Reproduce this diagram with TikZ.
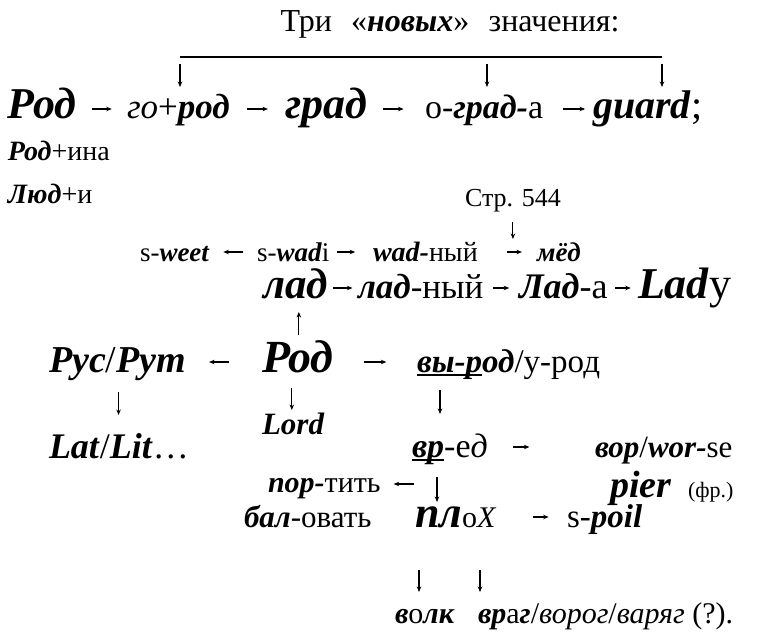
\documentclass[tikz,border=0pt]{standalone}
\usepackage{fontspec}
\setmainfont{Liberation Serif}
\usetikzlibrary{calc,arrows.meta}
\newcommand\bi[1]{\textbf{\textit{#1}}}
\newcommand\fs[1]{\fontsize{#1}{#1}\selectfont}
\newcommand\thul[1]{\leavevmode\setbox0\hbox{#1}\rlap{\rule[-0.13em]{\wd0}{0.065em}}\box0}
\tikzset{
  w/.style={anchor=base west, inner sep=0pt, outer sep=0pt},
  arr/.style={line width=1.1pt, -{Stealth[length=5.5pt,width=4.5pt]}},
}
% centred horizontal arrow between two nodes: a, b, length, height above base, shift
\newcommand\carr[5]{\draw[arr] ($(#1.base east)!.5!(#2.base west)+(-#3/2+#5,-#4)$) -- ++(#3,0);}
\newcommand\carrl[5]{\draw[arr] ($(#1.base east)!.5!(#2.base west)+(#3/2+#5,-#4)$) -- ++(-#3,0);}
\begin{document}
\begin{tikzpicture}[x=1pt,y=-1pt]
\useasboundingbox[fill=white] (0,0) rectangle (762,636);

% title and bracket line
\node[anchor=base, inner sep=0pt, font=\fs{32}] (title) at (450,32) {Три\hspace{0.6em}«\bi{новых}»\hspace{0.6em}значения:};
\draw[line width=2.6pt] (180,57) coordinate (t1) -- (487,57) coordinate (t2) -- (662,57) coordinate (t3);
\foreach \c in {t1,t2,t3} \draw[arr] ([yshift=-7pt]\c) -- ([yshift=-30pt]\c);

% row 1
\node[w,font=\fs{44}] (rA) at (8,119) {\bi{Род}};
\node[w,font=\fs{35}] (gorod) at (127,119) {\textit{го}+\bi{род}};
\node[w,font=\fs{44}] (grad) at (285,119) {\bi{град}};
\node[w,font=\fs{34}] (ograda) at (425,119) {о-\bi{град-}а};
\node[w,font=\fs{40}] (guard) at (593,119) {\bi{guard};};
\carr{rA}{gorod}{20}{10}{0}
\carr{gorod}{grad}{21}{10}{0}
\carr{grad}{ograda}{21}{10}{-3}
\carr{ograda}{guard}{22}{10}{6}

\node[w,font=\fs{28}] (rodina) at (8,161) {\bi{Род}+ина};
\node[w,font=\fs{28}] (ljudi) at (8,204) {\bi{Люд}+и};

% Str. 544
\node[w,font=\fs{26}] (str) at (465,207) {Стр. 544};
\draw[arr] ($(str.base)+(0,15)$) -- ++(0,17);

% s-weet row
\node[w,font=\fs{27}] (sweet) at (140,261) {s-\bi{weet}};
\node[w,font=\fs{27}] (swadi) at (257,261) {s-\bi{wad}i};
\node[w,font=\fs{28}] (wadny) at (373,261) {\bi{wad-}ный};
\node[w,font=\fs{27}] (mjod) at (537,261) {\bi{мёд}};
\carrl{sweet}{swadi}{20}{9}{0}
\carr{swadi}{wadny}{18}{9}{-5}
\carr{wadny}{mjod}{15}{9}{7}

% lad row
\node[w,font=\fs{43}] (lad) at (263,298) {\bi{лад}};
\node[w,font=\fs{35}] (ladny) at (358,298) {\bi{лад}-ный};
\node[w,font=\fs{36}] (lada) at (519,298) {\bi{Лад}-а};
\node[w,font=\fs{44}] (lady) at (638,298) {\bi{Lad}y};
\carr{lad}{ladny}{19}{10}{0}
\carr{ladny}{lada}{16}{10}{0}
\carr{lada}{lady}{16}{10}{0}

% Rod row
\node[w,font=\fs{38}] (rus) at (49,372) {\bi{Рус}/\bi{Рут}};
\node[w,font=\fs{46}] (rB) at (262,372) {\bi{Род}};
\node[w,font=\fs{33}] (vyrod) at (417,372) {\thul{\bi{вы-р}}\bi{од}/у-род};
\carrl{rus}{rB}{20}{10}{-5}
\carr{rB}{vyrod}{22}{10}{0}
\draw[arr] ($(rB.base)+(1,-37)$) -- ++(0,-23);
\draw[arr] ($(rus.base)+(1,20)$) -- ++(0,23);
\draw[arr] ($(rB.base)+(-6,16)$) -- ++(0,22);
\draw[arr] ($(vyrod.base west)+(23,18)$) -- ++(0,24);

\node[w,font=\fs{31}] (lord) at (262,434) {\bi{Lord}};
\node[w,font=\fs{36}] (latlit) at (49,458) {\bi{Lat}/\bi{Lit}…};

% vred row
\node[w,font=\fs{34}] (vred) at (412,457) {\thul{\bi{вр}}-е\textit{д}};
\node[w,font=\fs{31}] (vor) at (595,457) {\bi{вор}/\bi{wor-}se};
\carr{vred}{vor}{16}{10}{-20}

\node[w,font=\fs{30}] (portit) at (268,492) {\bi{пор-}тить};
\draw[arr] ($(vred.base west)+(25,20)$) -- ++(0,25);
\draw[arr] ($(portit.base east)+(33,-8)$) -- ++(-20,0);
\node[w,font=\fs{38}] (pier) at (610,497) {\bi{pier}};
\node[w,font=\fs{22}] (fr) at (688,497) {(фр.)};

% plox row
\node[w,font=\fs{31}] (balovat) at (244,527) {\bi{бал}-овать};
\node[w] (plox) at (415,527) {\fs{44}\bi{пл}\fs{30}о\textit{Х}};
\node[w,font=\fs{33}] (spoil) at (567,527) {s-\bi{poil}};
\carr{plox}{spoil}{16}{10}{9}
\draw[arr] ($(plox.base west)+(4,43)$) -- ++(0,22);
\draw[arr] ($(plox.base west)+(65,43)$) -- ++(0,22);

% bottom row
\node[w,font=\fs{30}] (volk) at (395,623) {\bi{в}о\bi{лк}};
\node[w,font=\fs{30}] (vrag) at (478,623) {\bi{вр}а\bi{г}/\textit{ворог}/\textit{варяг} (?).};
\end{tikzpicture}
\end{document}
